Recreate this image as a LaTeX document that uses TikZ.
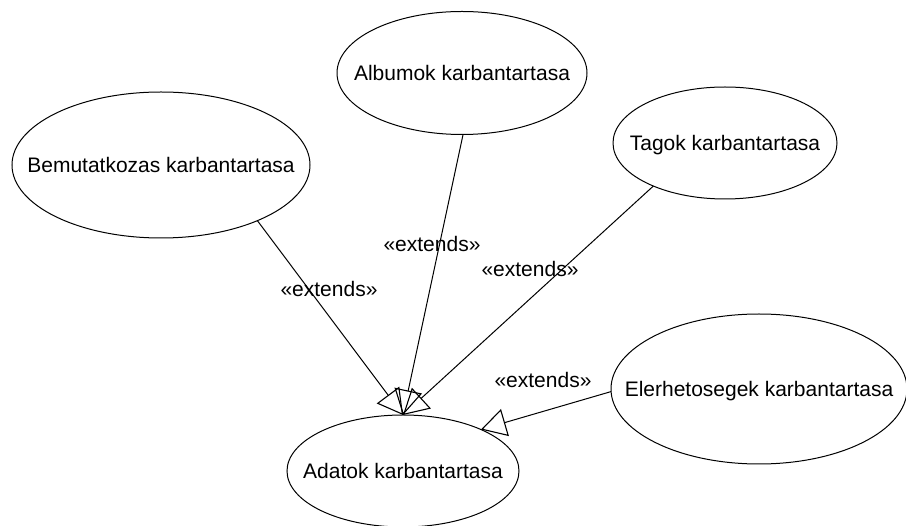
\documentclass[tikz,border=0pt]{standalone}
\usepackage{fontspec}
\setmainfont{Liberation Sans}
\usetikzlibrary{shapes.geometric,arrows.meta}
\begin{document}
\begin{tikzpicture}[x=1pt,y=-1pt,
  usecase/.style={draw,ellipse,line width=1pt,inner sep=0pt,outer sep=0pt,
    font=\fontsize{21}{24}\selectfont,text height=15pt,text depth=0pt},
  stereo/.style={font=\fontsize{21}{24}\selectfont,inner sep=0pt},
  extends/.style={line width=1pt,-{Triangle[open,length=25pt,width=28pt,line width=1.1pt]}}]
  \useasboundingbox (0,0) rectangle (906,526);

  % use cases
  \node[usecase,minimum width=250pt,minimum height=123pt] (alb) at (462,73)
    {\makebox[0pt]{Albumok karbantartasa}};
  \node[usecase,minimum width=298pt,minimum height=146pt] (bem) at (161,165)
    {\makebox[0pt]{Bemutatkozas karbantartasa}};
  \node[usecase,minimum width=224pt,minimum height=112pt] (tag) at (725,143)
    {\makebox[0pt]{Tagok karbantartasa}};
  \node[usecase,minimum width=296pt,minimum height=150pt] (ele) at (759,389)
    {\makebox[0pt]{Elerhetosegek karbantartasa}};
  \node[usecase,minimum width=232pt,minimum height=112pt] (ada) at (403,471)
    {\makebox[0pt]{Adatok karbantartasa}};

  % extend relations
  \draw[extends] (bem.-30.6) -- (ada.north);
  \draw[extends] (alb.-89) -- (ada.north);
  \draw[extends] (tag.211) -- (ada.north);
  \draw[extends] (ele.181) -- (ada.28.7);

  % stereotype labels
  \node[stereo] (lbem) at (329,289) {«extends»};
  \node[stereo] (lalb) at (432,244) {«extends»};
  \node[stereo] (ltag) at (530,269) {«extends»};
  \node[stereo] (lele) at (543,380) {«extends»};
\end{tikzpicture}
\end{document}
